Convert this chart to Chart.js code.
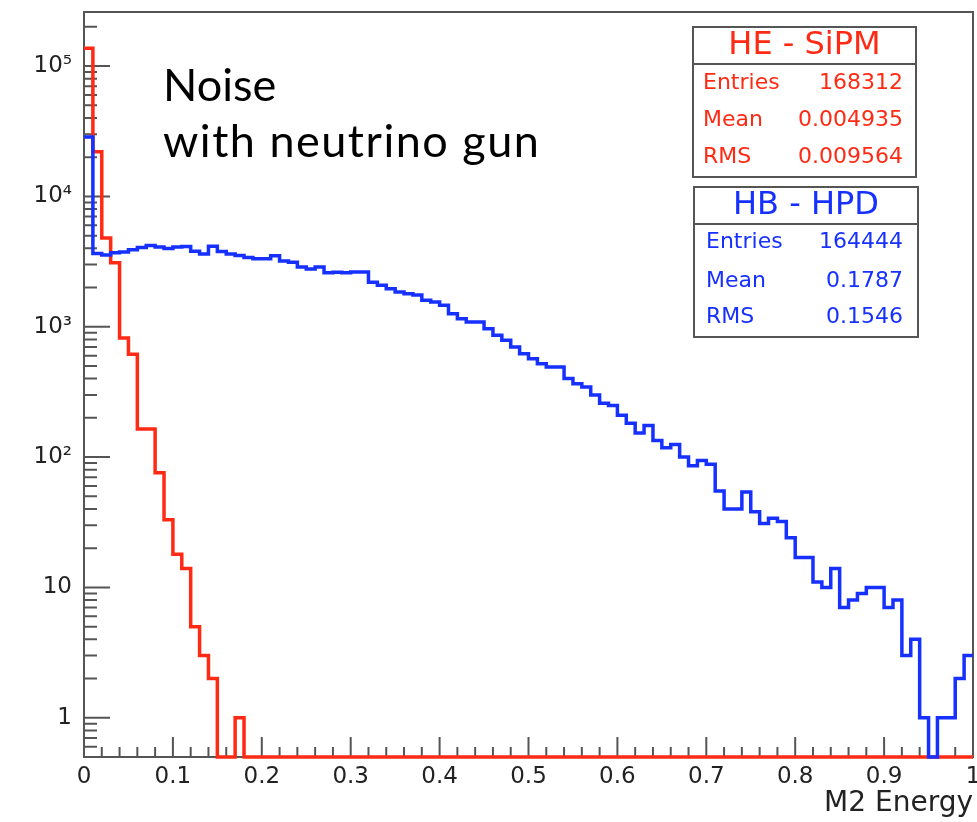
<!DOCTYPE html>
<html>
<head>
<meta charset="utf-8">
<title>M2 Energy - noise with neutrino gun</title>
<script src="https://cdn.jsdelivr.net/npm/chart.js@4.4.1/dist/chart.umd.min.js"></script>
<style>
  html, body { margin: 0; padding: 0; background: #fff; }
  #wrap { position: relative; width: 977px; height: 822px; }
</style>
</head>
<body>
<div id="wrap"><canvas id="m2Energy"></canvas></div>
<script>
// 100 bins of 0.01 between 0 and 1 (left edges + last right edge)
const binEdges = Array.from({length: 101}, (_, i) => i / 100);

// HE - SiPM, entries per bin (red)
const sipmCounts = [
  137000, 22000, 4800, 3100, 820, 615, 164, 164, 76, 33,
  18, 14, 5, 3, 2, 0, 0, 1, 0, 0,
  0, 0, 0, 0, 0, 0, 0, 0, 0, 0,
  0, 0, 0, 0, 0, 0, 0, 0, 0, 0,
  0, 0, 0, 0, 0, 0, 0, 0, 0, 0,
  0, 0, 0, 0, 0, 0, 0, 0, 0, 0,
  0, 0, 0, 0, 0, 0, 0, 0, 0, 0,
  0, 0, 0, 0, 0, 0, 0, 0, 0, 0,
  0, 0, 0, 0, 0, 0, 0, 0, 0, 0,
  0, 0, 0, 0, 0, 0, 0, 0, 0, 0
];

// HB - HPD, entries per bin (blue)
const hpdCounts = [
  28600, 3650, 3550, 3700, 3750, 3900, 4050, 4200, 4100, 3980,
  4100, 4120, 3800, 3620, 4150, 3780, 3620, 3520, 3400, 3330,
  3330, 3500, 3200, 3120, 2880, 2780, 2880, 2600, 2620, 2600,
  2630, 2630, 2200, 2080, 1960, 1846, 1795, 1750, 1600, 1548,
  1460, 1260, 1153, 1087, 1087, 967, 859, 787, 699, 621,
  569, 521, 491, 491, 400, 366, 345, 300, 259, 249,
  209, 182, 153, 175, 134, 118, 125, 100, 86, 94,
  88, 55, 40, 40, 54, 38, 31, 34, 32, 24,
  17, 17, 11, 10, 14, 7, 8, 9, 10, 10,
  7, 8, 3, 4, 1, 0, 1, 1, 2, 3
];

const xTicks = [0, 0.1, 0.2, 0.3, 0.4, 0.5, 0.6, 0.7, 0.8, 0.9, 1];
const xTickLabels = ['0', '0.1', '0.2', '0.3', '0.4', '0.5', '0.6', '0.7', '0.8', '0.9', '1'];
const yTicks = [1, 10, 100, 1000, 10000, 100000];
const yTickLabels = ['1', '10', '10²', '10³', '10⁴', '10⁵'];

const sipmStats = [['Entries', '168312'], ['Mean', '0.004935'], ['RMS', '0.009564']];
const hpdStats = [['Entries', '164444'], ['Mean', '0.1787'], ['RMS', '0.1546']];

const yMin = 0.5, yMax = 2.6e5;
const red = '#ff2a14';
const blue = '#1530ff';
const frameColor = '#555';
const rootFont = 'DejaVu Sans';

// empty bins sit on the bottom of the frame like in ROOT
function toPoints(counts) {
  const pts = counts.map((c, i) => ({x: binEdges[i], y: c > 0 ? c : yMin}));
  pts.push({x: binEdges[counts.length], y: pts[pts.length - 1].y});
  return pts;
}

function drawStatBox(ctx, b, color, title, rows) {
  ctx.fillStyle = '#fff';
  ctx.fillRect(b.x, b.y, b.w, b.h);
  ctx.strokeStyle = frameColor;
  ctx.lineWidth = 2;
  ctx.strokeRect(b.x, b.y, b.w, b.h);
  ctx.beginPath();
  ctx.moveTo(b.x, b.divY);
  ctx.lineTo(b.x + b.w, b.divY);
  ctx.stroke();
  ctx.fillStyle = color;
  ctx.textBaseline = 'middle';
  ctx.font = '32px "' + rootFont + '"';
  ctx.textAlign = 'center';
  ctx.fillText(title, b.x + b.w / 2, b.titleY);
  ctx.font = '22px "' + rootFont + '"';
  rows.forEach((r, i) => {
    ctx.textAlign = 'left';
    ctx.fillText(r[0], b.labelX, b.rowY[i]);
    ctx.textAlign = 'right';
    ctx.fillText(r[1], b.valueX, b.rowY[i]);
  });
}

const rootFrame = {
  id: 'rootFrame',
  beforeDatasetsDraw(chart) {
    const {ctx, chartArea: a, scales: {x, y}} = chart;
    ctx.save();
    ctx.strokeStyle = frameColor;
    ctx.lineWidth = 2;
    ctx.beginPath();
    // inward ticks on x: small every 0.02, long every 0.1
    for (let i = 0; i <= 50; i++) {
      const px = x.getPixelForValue(i * 0.02);
      const len = i % 5 === 0 ? 20 : 10;
      ctx.moveTo(px, a.bottom);
      ctx.lineTo(px, a.bottom - len);
    }
    // inward log ticks on y
    for (let d = -1; d <= 5; d++) {
      for (let m = 1; m <= 9; m++) {
        const v = m * Math.pow(10, d);
        if (v < y.min || v > y.max) continue;
        const py = y.getPixelForValue(v);
        ctx.moveTo(a.left, py);
        ctx.lineTo(a.left + (m === 1 ? 26 : 13), py);
      }
    }
    ctx.stroke();
    ctx.strokeRect(a.left, a.top, a.right - a.left, a.bottom - a.top);
    ctx.restore();
  },
  afterDraw(chart) {
    const ctx = chart.ctx;
    ctx.save();
    drawStatBox(ctx, {x: 693, y: 27, w: 223, h: 150, divY: 64, titleY: 46,
      rowY: [83, 120, 157], labelX: 703, valueX: 903}, red, 'HE - SiPM', sipmStats);
    drawStatBox(ctx, {x: 694, y: 187, w: 224, h: 150, divY: 224, titleY: 206,
      rowY: [242, 281, 317], labelX: 706, valueX: 903}, blue, 'HB - HPD', hpdStats);
    ctx.fillStyle = '#000';
    ctx.textAlign = 'left';
    ctx.textBaseline = 'alphabetic';
    ctx.font = '45px Lato';
    ctx.fillText('Noise', 163, 101);
    ctx.letterSpacing = '1.5px';
    ctx.fillText('with neutrino gun', 163, 157);
    ctx.restore();
  }
};

const m2Energy = document.getElementById('m2Energy');

const dataM2Energy = {
  datasets: [
    {
      label: 'HE - SiPM',
      data: toPoints(sipmCounts),
      borderColor: red,
      borderWidth: 3.5,
      stepped: true,
      pointRadius: 0,
      fill: false,
      clip: 4,
      order: 2
    },
    {
      label: 'HB - HPD',
      data: toPoints(hpdCounts),
      borderColor: blue,
      borderWidth: 3.5,
      stepped: true,
      pointRadius: 0,
      fill: false,
      clip: 4,
      order: 1
    }
  ]
};

const configM2Energy = {
  type: 'line',
  data: dataM2Energy,
  options: {
    responsive: true,
    maintainAspectRatio: false,
    animation: false,
    layout: {padding: {top: 12, right: 4, bottom: 0, left: 0}},
    plugins: {
      legend: {display: false},
      tooltip: {enabled: false}
    },
    scales: {
      x: {
        type: 'linear',
        min: 0,
        max: 1,
        grid: {display: false, drawTicks: false},
        border: {display: false},
        afterBuildTicks: s => { s.ticks = xTicks.map(v => ({value: v})); },
        afterFit: s => { s.height = 65; s.paddingLeft = 0; s.paddingRight = 0; },
        ticks: {
          callback: (v, i) => xTickLabels[i],
          maxRotation: 0,
          autoSkip: false,
          padding: 6,
          color: '#222',
          font: {family: rootFont, size: 23}
        },
        title: {
          display: true,
          text: 'M2 Energy',
          align: 'end',
          color: '#222',
          font: {family: rootFont, size: 28},
          padding: {top: 0, bottom: 1}
        }
      },
      y: {
        type: 'logarithmic',
        min: yMin,
        max: yMax,
        grid: {display: false, drawTicks: false},
        border: {display: false},
        afterBuildTicks: s => { s.ticks = yTicks.map(v => ({value: v})); },
        afterFit: s => { s.width = 84; s.paddingTop = 0; s.paddingBottom = 0; },
        ticks: {
          callback: (v, i) => yTickLabels[i],
          autoSkip: false,
          padding: 12,
          color: '#222',
          font: {family: rootFont, size: 23}
        }
      }
    }
  },
  plugins: [rootFrame]
};

let m2EnergyGraph = new Chart(m2Energy, configM2Energy);
</script>
</body>
</html>
